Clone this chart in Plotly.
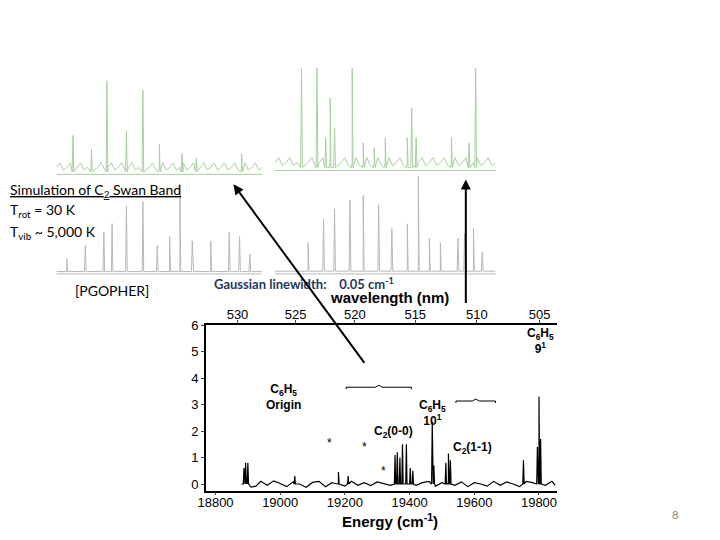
import plotly.graph_objects as go

# main spectrum: baseline samples and peaks (energy cm-1, intensity)
base_x = [18880, 18895, 18910, 18925, 18940, 18960, 18980, 19000, 19020, 19040, 19060, 19080, 19100,
          19120, 19140, 19160, 19180, 19200, 19220, 19240, 19260, 19280, 19300, 19320, 19340, 19360,
          19380, 19400, 19420, 19440, 19460, 19480, 19500, 19520, 19540, 19560, 19580, 19600, 19620,
          19640, 19660, 19680, 19700, 19720, 19740, 19760, 19780, 19800, 19820, 19840, 19850]
base_y = [0.0, 0.05, -0.12, -0.08, 0.1, -0.05, 0.12, 0.02, -0.1, 0.08, 0.0, -0.12, 0.06, 0.1, -0.1,
          0.05, 0.0, -0.08, 0.1, -0.05, 0.05, -0.06, 0.08, 0.02, -0.05, 0.1, 0.0, 0.15, -0.05, 0.05,
          0.1, -0.08, 0.05, 0.12, -0.05, 0.08, -0.1, 0.05, 0.0, -0.08, 0.1, -0.05, 0.08, 0.0, -0.1,
          0.1, 0.05, 0.2, -0.05, 0.1, -0.05]
peak_x = [18888, 18893, 18900, 19045, 19180, 19210, 19355, 19362, 19370, 19378, 19390, 19402, 19410,
          19470, 19475, 19512, 19520, 19526, 19752, 19795, 19800, 19805]
peak_y = [0.6, 0.8, 0.8, 0.3, 0.45, 0.3, 1.1, 1.2, 1.0, 1.5, 1.5, 0.6, 0.5, 2.35, 0.7, 0.8, 1.15,
          0.9, 0.9, 1.4, 3.3, 1.7]

wl_ticks = [530, 525, 520, 515, 510, 505]

# simulation panels: peak position (0-1) and height (0-1)
tl_pos = [0.08, 0.17, 0.245, 0.34, 0.42, 0.5, 0.61, 0.68, 0.9]
tl_h = [0.4, 0.25, 1.0, 0.45, 0.9, 0.3, 0.2, 0.15, 0.2]
tr_pos = [0.12, 0.19, 0.23, 0.25, 0.27, 0.35, 0.4, 0.45, 0.5, 0.6, 0.62, 0.64, 0.8, 0.88, 0.91]
tr_h = [1.0, 1.0, 0.3, 0.7, 0.4, 1.0, 0.25, 0.2, 0.3, 0.3, 0.6, 0.3, 0.3, 0.25, 1.0]
bl_pos = [0.05, 0.14, 0.23, 0.27, 0.34, 0.42, 0.49, 0.55, 0.6, 0.6, 0.66, 0.75, 0.84, 0.89, 0.94]
bl_h = [0.15, 0.3, 0.45, 0.55, 0.75, 0.8, 0.3, 0.4, 0.5, 1.0, 0.35, 0.35, 0.45, 0.4, 0.2]
br_pos = [0.15, 0.22, 0.27, 0.34, 0.4, 0.47, 0.53, 0.6, 0.65, 0.7, 0.75, 0.83, 0.86, 0.9, 0.94]
br_h = [0.3, 0.55, 0.65, 0.75, 0.8, 0.7, 0.45, 0.5, 1.0, 0.35, 0.3, 0.35, 0.4, 0.45, 0.2]

W, H, OFF = 704, 524, 8


def sticks(bx, by, px, py, w):
    pts = [(x, y) for x, y in zip(bx, by)]
    for x, y in zip(px, py):
        pts += [(x - w, 0.0), (x, y), (x + w, 0.0)]
    pts.sort()
    return [p[0] for p in pts], [p[1] for p in pts]


def P(px, py):
    return (px - OFF) / W, 1 - (py - OFF) / H


fig = go.Figure()
sx, sy = sticks(base_x, base_y, peak_x, peak_y, 2)
fig.add_trace(go.Scatter(x=sx, y=sy, mode="lines", line=dict(color="black", width=1.2),
                         xaxis="x", yaxis="y", showlegend=False))
fig.add_trace(go.Scatter(x=[1e7 / w for w in wl_ticks], y=[None] * 6, xaxis="x2", yaxis="y",
                         showlegend=False))

panels = [(tl_pos, tl_h, "#a8cfa0", 3, (49, 257, 73, 172)),
          (tr_pos, tr_h, "#a8cfa0", 4, (270, 493, 60, 168)),
          (bl_pos, bl_h, "#b8b8b8", 5, (49, 257, 178, 273)),
          (br_pos, br_h, "#b8b8b8", 6, (270, 493, 170, 273))]
for pos, h, col, n, (x0, x1, y0, y1) in panels:
    bx = [i / 60 for i in range(61)]
    if n < 5:
        by = [0.05 if i % 3 == 0 else (0.1 if i % 3 == 1 else 0.02) for i in range(61)]
    else:
        by = [0.0] * 61
    px, py = sticks(bx, by, pos, h, 0.004)
    fig.add_trace(go.Scatter(x=px, y=py, mode="lines", line=dict(color=col, width=1),
                             xaxis=f"x{n}", yaxis=f"y{n}", showlegend=False))
    a, b = P(x0, y1)
    c, d = P(x1, y0)
    fig.update_layout(**{f"xaxis{n}": dict(domain=[a, c], range=[0, 1], visible=False, anchor=f"y{n}"),
                         f"yaxis{n}": dict(domain=[b, d], range=[-0.05, 1.02], visible=False,
                                           anchor=f"x{n}")})
    fig.add_shape(type="line", xref="paper", yref="paper", x0=a, x1=c, y0=b + 0.004, y1=b + 0.004,
                  line=dict(color=col, width=1))

xa, yb = P(200, 491)
xc, yd = P(555, 323)
ax = dict(showline=True, linecolor="black", linewidth=1.5, mirror=False, ticks="outside", ticklen=3,
          showgrid=False, zeroline=False, tickfont=dict(family="Arial", size=13, color="black"))
fig.update_layout(
    width=W, height=H, margin=dict(l=0, r=0, t=0, b=0),
    paper_bgcolor="white", plot_bgcolor="white",
    xaxis=dict(ax, domain=[xa, xc], range=[18770, 19855], tickvals=[18800, 19000, 19200, 19400, 19600, 19800],
               anchor="y", tickformat="d", ticklabelstandoff=-4),
    xaxis2=dict(ax, overlaying="x", side="top", range=[18770, 19855], anchor="y", ticklabelstandoff=-4,
                tickvals=[1e7 / w for w in wl_ticks], ticktext=[str(w) for w in wl_ticks]),
    yaxis=dict(ax, domain=[yb, yd], range=[-0.25, 6], tickvals=[0, 1, 2, 3, 4, 5, 6], anchor="x"),
)

ann = [
    (0, 186, "<u>Simulation of C<sub>2</sub> Swan Band</u>", 14, "black", "Lato", "left"),
    (0, 207, "T<sub>rot</sub> = 30 K", 14, "black", "Lato", "left"),
    (0, 229, "T<sub>vib</sub> ~ 5,000 K", 14, "black", "Lato", "left"),
    (66, 288, "[PGOPHER]", 14, "black", "Lato", "left"),
    (206, 281, "<b>Gaussian linewidth:    0.05 cm<sup>-1</sup></b>", 13, "#1f3864", "Lato", "left"),
    (386, 295, "<b>wavelength (nm)</b>", 15, "black", "Arial", "center"),
    (386, 521, "<b>Energy (cm<sup>-1</sup>)</b>", 15, "black", "Arial", "center"),
    (675, 515, "8", 11, "#888888", "Lato", "center"),
]
for x, y, t, s, c, f, al in ann:
    a, b = P(x, y)
    fig.add_annotation(xref="paper", yref="paper", x=a, y=b, text=t, showarrow=False,
                       xanchor=al, yanchor="middle", font=dict(size=s, color=c, family=f))

labels = [(19010, 3.3, "<b>C<sub>6</sub>H<sub>5</sub><br>Origin</b>"),
          (19470, 2.7, "<b>C<sub>6</sub>H<sub>5</sub><br>10<sup>1</sup></b>"),
          (19350, 1.95, "<b>C<sub>2</sub>(0-0)</b>"),
          (19595, 1.35, "<b>C<sub>2</sub>(1-1)</b>"),
          (19805, 5.4, "<b>C<sub>6</sub>H<sub>5</sub><br>9<sup>1</sup></b>"),
          (19152, 1.55, "*"), (19262, 1.4, "*"), (19318, 0.5, "*")]
for x, y, t in labels:
    fig.add_annotation(xref="x", yref="y", x=x, y=y, text=t, showarrow=False,
                       font=dict(size=12, family="Arial", color="black"))

for (x0, y0, x1, y1) in [(360, 360, 228, 180), (463, 300, 463, 175)]:
    c, d = P(x1, y1)
    fig.add_annotation(xref="paper", yref="paper", axref="pixel", ayref="pixel", x=c, y=d,
                       ax=x0 - x1, ay=y0 - y1, text="", showarrow=True, arrowhead=2, arrowwidth=2,
                       arrowcolor="black")

for x0, x1, y in [(342, 408, 384), (453, 493, 398)]:
    a, b = P(x0, y + 4)
    c, _ = P(x1, y)
    m = (a + c) / 2
    top = b + 4 / H
    mid = b + 2 / H
    path = f"M {a} {b} L {a} {mid} L {m - 0.005} {mid} L {m} {top} L {m + 0.005} {mid} L {c} {mid} L {c} {b}"
    fig.add_shape(type="path", xref="paper", yref="paper", path=path, line=dict(color="black", width=1))

fig.write_html("out.html")
